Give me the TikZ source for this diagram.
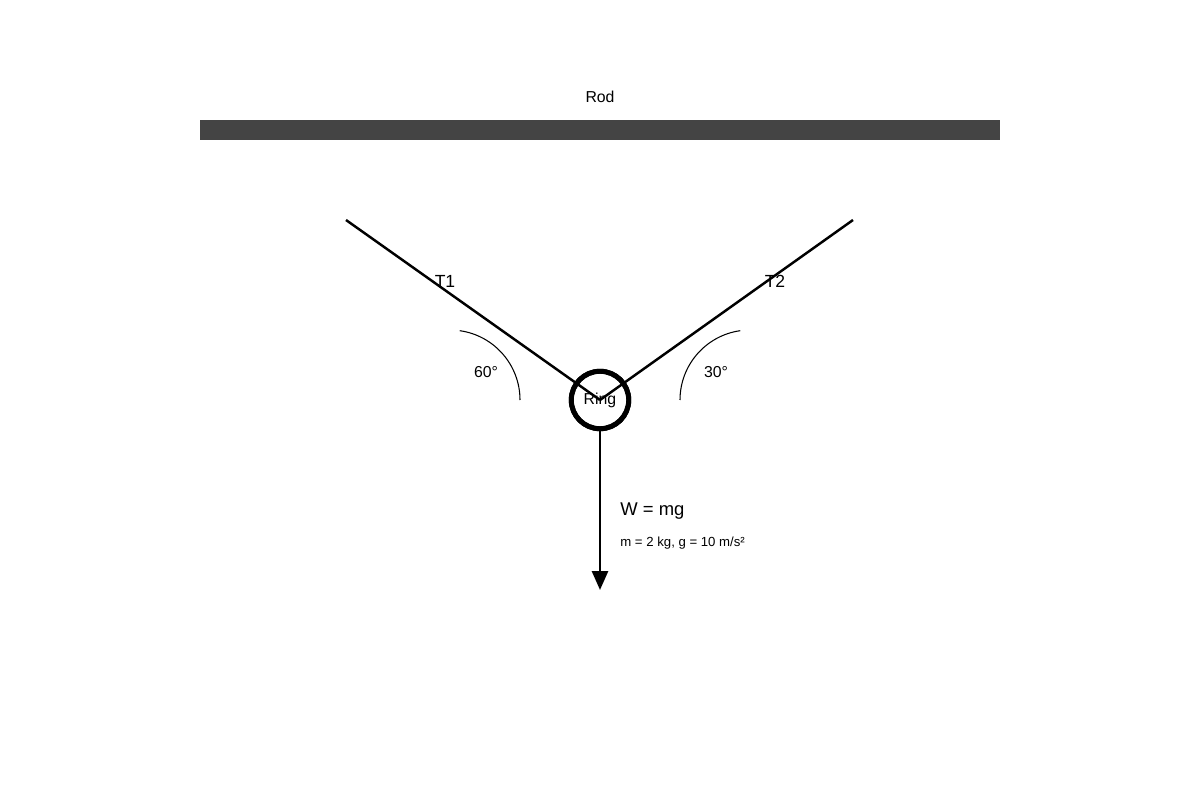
\documentclass[tikz,border=0pt]{standalone}
\usepackage{fontspec}
\setmainfont{Liberation Sans}
\usetikzlibrary{arrows.meta}
\definecolor{rodc}{HTML}{444444}
\begin{document}
\begin{tikzpicture}[x=0.02cm,y=-0.02cm,
  lbl/.style={font=\fontsize{9}{10}\selectfont,inner sep=0pt},
  rope/.style={line width=1.4pt},
  arcs/.style={line width=0.6pt}]
\useasboundingbox (0,0) rectangle (1200,800);
\fill[rodc] (200,120) rectangle (1000,140);
\node[lbl] (rod) at (600,97) {Rod};
\node[circle,draw,line width=2.8pt,minimum size=1.15cm,inner sep=0pt] (ring) at (600,400) {};
\coordinate (a) at (346,220);
\coordinate (b) at (853,220);
\draw[rope] (a) -- (ring.center);
\draw[rope] (b) -- (ring.center);
\node[circle,draw,line width=2.8pt,minimum size=1.15cm,inner sep=0pt,fill=none] at (600,400) {};
\node[lbl] (ringt) at (600,400) {Ring};
\node[lbl,font=\fontsize{10}{12}\selectfont] (t1) at (445,281) {T1};
\node[lbl,font=\fontsize{10}{12}\selectfont] (t2) at (775,281) {T2};
\draw[arcs] (520,400) arc[start angle=0,end angle=-82,radius=70];
\draw[arcs] (680,400) arc[start angle=180,end angle=262,radius=70];
\node[lbl] (a60) at (486,372) {60°};
\node[lbl] (a30) at (716,372) {30°};
\coordinate (w) at (600,590);
\draw[line width=1.6pt,-{Triangle[length=0.38cm,width=0.32cm]}] (ring.south) -- (w);
\node[lbl,anchor=west,font=\fontsize{10.5}{12}\selectfont] (wmg) at (620,511) {W = mg};
\node[lbl,anchor=west,font=\fontsize{7.5}{9}\selectfont] (m) at (620,543) {m = 2 kg, g = 10 m/s²};
\end{tikzpicture}
\end{document}
